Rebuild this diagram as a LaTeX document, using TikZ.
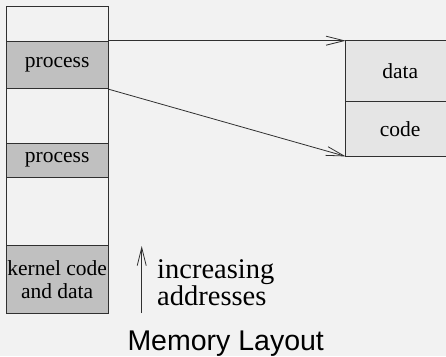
\documentclass[tikz,border=0pt]{standalone}
\usepackage{fontspec}
\setmainfont{Liberation Serif}
\newfontfamily\titlefont{Liberation Sans}
\usetikzlibrary{arrows.meta}
\definecolor{bg}{HTML}{F2F2F2}
\definecolor{procfill}{HTML}{C0C0C0}
\definecolor{segfill}{HTML}{E5E5E5}
\definecolor{edge}{HTML}{303030}
\begin{document}
\begin{tikzpicture}[x=1pt,y=-1pt,
  cell/.style={draw=edge, line width=0.9pt, inner sep=0pt, anchor=north west,
    minimum width=102pt, font=\fontsize{21.5}{22.7}\selectfont, align=center},
  proc/.style={cell, fill=procfill},
  seg/.style={cell, fill=segfill, minimum width=108.6pt},
  link/.style={draw=edge, line width=0.8pt, -{Straight Barb[length=18pt,width=9pt]}},
  lbl/.style={inner sep=0pt, font=\fontsize{28.5}{25.7}\selectfont, align=left}
]
\fill[bg] (0,0) rectangle (446,356);
\useasboundingbox (0,0) rectangle (446,356);
% memory column
\node[cell, minimum height=34.4pt] (e1) at (5.7,6.3) {};
\node[proc, minimum height=47.6pt] (p1) at (5.7,40.7) {process};
\node[cell, minimum height=54.4pt] (e2) at (5.7,88.3) {};
\node[proc, minimum height=33.8pt] (p2) at (5.7,142.7) {process};
\node[cell, minimum height=68.5pt] (e3) at (5.7,176.5) {};
\node[proc, minimum height=68.3pt] (k) at (5.7,245) {kernel code\\and data};
% process image (its right edge runs off the picture)
\begin{scope}
\clip (0,0) rectangle (446,356);
\path[fill=segfill, draw=edge, line width=0.9pt] (345.7,40.7) rectangle (480,156);
\draw[edge, line width=0.9pt] (345.7,101.7) -- (480,101.7);
\end{scope}
\node[inner sep=0pt, minimum width=108.6pt, minimum height=61pt, anchor=north west,
  font=\fontsize{21.5}{22.7}\selectfont] (data) at (345.7,40.7) {data};
\node[inner sep=0pt, minimum width=108.6pt, minimum height=54.3pt, anchor=north west,
  font=\fontsize{21.5}{22.7}\selectfont] (code) at (345.7,101.7) {code};
% links
\draw[link] (p1.north east) -- (data.north west);
\draw[link] (p1.south east) -- (code.south west);
% increasing addresses
\coordinate (a1) at (141.7,313);
\coordinate (a2) at (141.7,246);
\draw[link] (a1) -- (a2);
\node[lbl, anchor=base west] (inc) at (157,305) {increasing\\addresses};
% title
\node[inner sep=0pt, anchor=base west, font=\titlefont\fontsize{28.5}{30}\selectfont] (title) at (127.3,350) {Memory Layout};
\end{tikzpicture}
\end{document}
